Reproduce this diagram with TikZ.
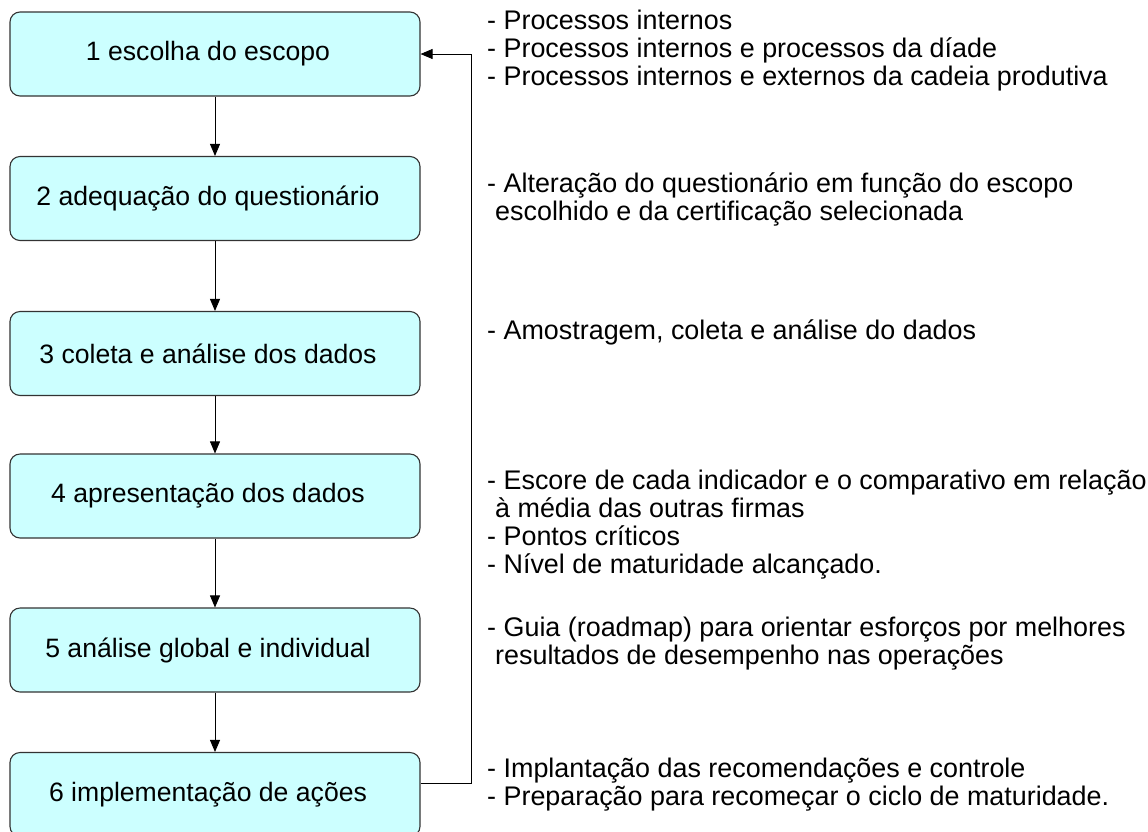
\documentclass[tikz,border=0pt]{standalone}
\usepackage{fontspec}
\setmainfont{Liberation Sans}
\usetikzlibrary{arrows.meta}
\definecolor{boxfill}{HTML}{CCFFFF}
\definecolor{boxline}{HTML}{333333}
\tikzset{
  stepbox/.style={draw=boxline, line width=1.1pt, fill=boxfill, rounded corners=10pt,
    minimum width=410pt, minimum height=84pt, inner sep=0pt,
    font=\fontsize{26.6pt}{28pt}\selectfont},
  note/.style={anchor=base west, align=left, inner sep=0pt,
    font=\fontsize{26.9pt}{28pt}\selectfont},
  flow/.style={draw=black, line width=0.9pt, -{Triangle[length=12pt,width=10pt]}},
  link/.style={draw=black, line width=0.9pt}
}
\newcommand{\lft}{\hspace*{-14pt}}
\begin{document}
\begin{tikzpicture}[x=1pt,y=-1pt]
\useasboundingbox (0,0) rectangle (1148,831);
\node[stepbox] (s1) at (215,54)    {\lft 1 escolha do escopo};
\node[stepbox] (s2) at (215,198.5) {\lft 2 adequação do questionário};
\node[stepbox] (s3) at (215,353.5) {\lft 3 coleta e análise dos dados};
\node[stepbox] (s4) at (215,496)   {\lft 4 apresentação dos dados};
\node[stepbox] (s5) at (215,650)   {\lft 5 análise global e individual};
\node[stepbox] (s6) at (215,794.5) {\lft 6 implementação de ações};

\draw[flow] (s1.south) -- (s2.north);
\draw[flow] (s2.south) -- (s3.north);
\draw[flow] (s3.south) -- (s4.north);
\draw[flow] (s4.south) -- (s5.north);
\draw[flow] (s5.south) -- (s6.north);

\coordinate (fbstart) at ([yshift=11.5pt]s6.east);
\coordinate (fbturn1) at (471,783);
\coordinate (fbturn2) at (471,54);
\draw[link] (fbstart) -- (fbturn1) -- (fbturn2);
\draw[flow] (fbturn2) -- (s1.east);

\node[note] (n1) at (487,85) {- Processos internos\\- Processos internos e processos da díade\\- Processos internos e externos da cadeia produtiva};
\node[note] (n2) at (487,220) {- Alteração do questionário em função do escopo\\\hspace*{8pt}escolhido e da certificação selecionada};
\node[note] (n3) at (487,339) {- Amostragem, coleta e análise do dados};
\node[note] (n4) at (487,573) {- Escore de cada indicador e o comparativo em relação\\\hspace*{8pt}à média das outras firmas\\- Pontos críticos\\- Nível de maturidade alcançado.};
\node[note] (n5) at (487,664) {- Guia (roadmap) para orientar esforços por melhores\\\hspace*{8pt}resultados de desempenho nas operações};
\node[note] (n6) at (487,805) {- Implantação das recomendações e controle\\- Preparação para recomeçar o ciclo de maturidade.};
\end{tikzpicture}
\end{document}
